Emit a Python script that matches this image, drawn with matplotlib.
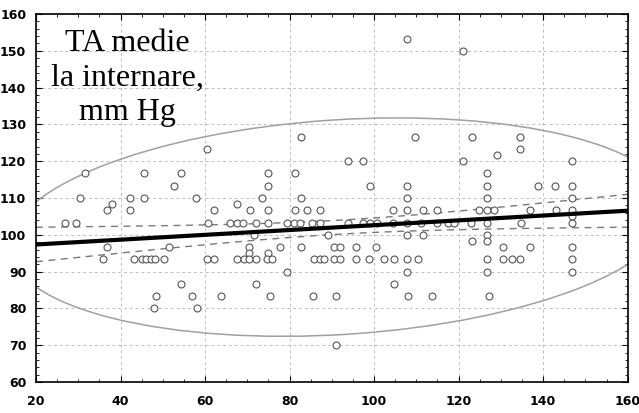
import numpy as np
import matplotlib.pyplot as plt
from matplotlib.patches import Ellipse
from matplotlib.ticker import MultipleLocator

# points, one row per blood-pressure level
x = [107.9,
     121,
     82.7, 109.7, 123.1, 134.6,
     60.5, 134.6,
     129,
     93.9, 97.3, 121, 146.8,
     31.7, 45.5, 54.4, 75, 81.3, 126.6,
     52.6, 75, 99, 107.9, 126.6, 138.7, 142.8, 146.8,
     30.5, 42.2, 45.5, 57.9, 73.4, 82.7, 107.9, 126.6, 146.8,
     37.9, 67.5,
     36.8, 42.2, 62.1, 70.6, 74.8, 81.2, 84.2, 87.3, 104.5, 107.9, 111.5, 115,
     124.8, 126.6, 128.3, 136.8, 143, 146.8,
     146.8,
     26.8, 29.5, 60.7, 66, 67.6, 69.1, 72, 74.8, 79.5, 81.1, 82.5, 85.2, 87.3,
     93.9, 97.3, 99, 100.6, 104.4, 107.9, 111.1, 115, 117.4, 119, 122.9, 126.6,
     134.7, 146.8,
     71.6, 89, 107.9, 111.5, 126.6,
     123.1, 126.6,
     36.8, 51.4, 70.4, 77.8, 82.7, 90.5, 91.9, 95.6, 100.5, 130.4, 136.8, 146.8,
     70.4, 75,
     35.8, 43.2, 45.1, 46.1, 47.1, 48.1, 50.3, 60.5, 62.1, 67.6, 69.2, 70.4, 72,
     74.7, 75.9, 85.8, 87.2, 88.2, 90.5, 92, 95.6, 98.9, 102.3, 104.6, 107.9,
     110.4, 126.6, 130.4, 132.6, 134.6, 146.8,
     79.5, 107.9, 126.6, 146.8,
     54.4, 72, 104.6,
     48.4, 56.8, 63.7, 75.3, 85.6, 91, 108.1, 113.7, 127.1,
     47.9, 58.2,
     91]
y = [153.3,
     150,
     126.7, 126.7, 126.7, 126.7,
     123.3, 123.3,
     121.7,
     120, 120, 120, 120,
     116.7, 116.7, 116.7, 116.7, 116.7, 116.7,
     113.3, 113.3, 113.3, 113.3, 113.3, 113.3, 113.3, 113.3,
     110, 110, 110, 110, 110, 110, 110, 110, 110,
     108.3, 108.3,
     106.7, 106.7, 106.7, 106.7, 106.7, 106.7, 106.7, 106.7, 106.7, 106.7,
     106.7, 106.7, 106.7, 106.7, 106.7, 106.7, 106.7, 106.7,
     105,
     103.3, 103.3, 103.3, 103.3, 103.3, 103.3, 103.3, 103.3, 103.3, 103.3,
     103.3, 103.3, 103.3, 103.3, 103.3, 103.3, 103.3, 103.3, 103.3, 103.3,
     103.3, 103.3, 103.3, 103.3, 103.3, 103.3, 103.3,
     100, 100, 100, 100, 100,
     98.3, 98.3,
     96.7, 96.7, 96.7, 96.7, 96.7, 96.7, 96.7, 96.7, 96.7, 96.7, 96.7, 96.7,
     95, 95,
     93.3, 93.3, 93.3, 93.3, 93.3, 93.3, 93.3, 93.3, 93.3, 93.3, 93.3, 93.3,
     93.3, 93.3, 93.3, 93.3, 93.3, 93.3, 93.3, 93.3, 93.3, 93.3, 93.3, 93.3,
     93.3, 93.3, 93.3, 93.3, 93.3, 93.3, 93.3,
     90, 90, 90, 90,
     86.7, 86.7, 86.7,
     83.3, 83.3, 83.3, 83.3, 83.3, 83.3, 83.3, 83.3, 83.3,
     80, 80,
     70]

label = "TA medie\nla internare,\nmm Hg"

x = np.array(x)
y = np.array(y)
n = len(x)

fig = plt.figure(figsize=(6.39, 4.13), dpi=100)
ax = fig.add_axes([0.0563, 0.075, 0.926, 0.891])

# regression + 95% confidence band
b, a = np.polyfit(x, y, 1)
xs = np.linspace(20, 160, 300)
yhat = a + b * xs
resid = y - (a + b * x)
s = np.sqrt(np.sum(resid ** 2) / (n - 2))
sxx = np.sum((x - x.mean()) ** 2)
ci = 1.975 * s * np.sqrt(1 / n + (xs - x.mean()) ** 2 / sxx)

# 95% ellipse
cov = np.cov(x, y)
vals, vecs = np.linalg.eigh(cov)
order = vals.argsort()[::-1]
vals, vecs = vals[order], vecs[:, order]
ang = np.degrees(np.arctan2(vecs[1, 0], vecs[0, 0]))
w, h = 2 * np.sqrt(5.991 * vals)
ell = Ellipse((x.mean(), y.mean()), w, h, angle=ang, fill=False,
              edgecolor='#a0a0a0', lw=1.1, zorder=2)
ax.add_patch(ell)

ax.plot(x, y, 'o', ms=5, mfc='white', mec='#555555', mew=0.8, zorder=3)
ax.plot(xs, yhat + ci, color='#7a7a7a', lw=1, ls=(0, (5, 4)), zorder=2)
ax.plot(xs, yhat - ci, color='#7a7a7a', lw=1, ls=(0, (5, 4)), zorder=2)
ax.plot(xs, yhat, color='black', lw=3, zorder=4)

ax.set_xlim(20, 160)
ax.set_ylim(60, 160)
ax.xaxis.set_major_locator(MultipleLocator(20))
ax.xaxis.set_minor_locator(MultipleLocator(5))
ax.yaxis.set_major_locator(MultipleLocator(10))
ax.yaxis.set_minor_locator(MultipleLocator(2))
ax.grid(True, which='major', color='#bdbdbd', lw=0.7, ls=(0, (3, 3)))
ax.tick_params(which='both', direction='in', top=True, right=True,
               labelsize=9)
ax.tick_params(axis='y', pad=7)
ax.tick_params(axis='x', pad=9)
ax.tick_params(which='major', length=4)
ax.tick_params(which='minor', length=2.5)
for lab in ax.get_xticklabels() + ax.get_yticklabels():
    lab.set_family(['Liberation Sans Narrow', 'DejaVu Sans'])
    lab.set_fontweight('bold')
for sp in ax.spines.values():
    sp.set_linewidth(1.2)

ax.text(0.155, 0.826, label, transform=ax.transAxes, ha='center', va='center',
        family=['Liberation Serif', 'DejaVu Serif'], fontsize=23,
        linespacing=1.25, zorder=5)

fig.savefig('out.png', dpi=100)
